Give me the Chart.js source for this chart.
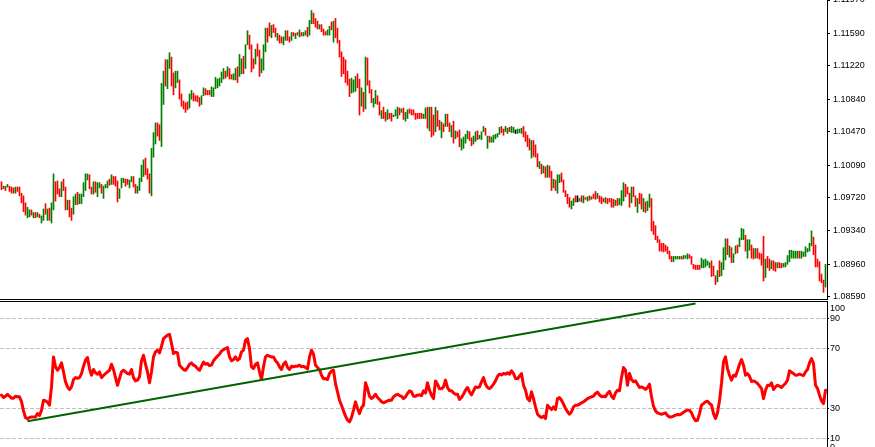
<!DOCTYPE html>
<html><head><meta charset="utf-8">
<script src="https://cdn.jsdelivr.net/npm/chart.js@4.4.0/dist/chart.umd.min.js"></script>
<style>
html,body{margin:0;padding:0;background:#fff;overflow:hidden;width:875px;height:447px;}
#wrap{position:relative;width:875px;height:447px;overflow:hidden;background:#fff;}
canvas{position:absolute;left:0;}
#priceCanvas{top:0;width:875px;height:300px;}
#rsiCanvas{top:300px;width:875px;height:155px;}
</style></head><body>
<div id="wrap"><canvas id="priceCanvas" width="875" height="300"></canvas><canvas id="rsiCanvas" width="875" height="155"></canvas></div>
<script>
// ---- data ----
const barHigh = [
1.0990,1.0985,1.0985,1.0987,1.0985,1.0984,1.0983,1.0984,1.0984,1.0984,
1.0977,1.0974,1.0966,1.0961,1.0958,1.0958,1.0955,1.0955,1.0955,1.0953,
1.0951,1.0959,1.0965,1.0959,1.0960,1.0966,1.0999,1.0990,1.0991,1.0982,
1.0990,1.0993,1.0984,1.0969,1.0969,1.0960,1.0973,1.0976,1.0978,1.0976,
1.0976,1.0989,1.0999,1.0999,1.0998,1.0984,1.0990,1.0990,1.0989,1.0989,
1.0987,1.0985,1.0987,1.0991,1.0993,1.0998,1.0996,1.0996,1.0991,1.0982,
1.0994,1.0994,1.0993,1.0993,1.0992,1.0996,1.0996,1.0987,1.0985,1.0994,
1.1009,1.1015,1.1017,1.1005,1.0999,1.1028,1.1046,1.1057,1.1057,1.1055,
1.1102,1.1116,1.1129,1.1129,1.1137,1.1132,1.1114,1.1116,1.1116,1.1106,
1.1090,1.1082,1.1080,1.1081,1.1090,1.1094,1.1091,1.1088,1.1088,1.1086,
1.1088,1.1097,1.1096,1.1094,1.1094,1.1098,1.1097,1.1109,1.1107,1.1108,
1.1115,1.1119,1.1116,1.1121,1.1119,1.1112,1.1113,1.1119,1.1121,1.1135,
1.1130,1.1133,1.1146,1.1162,1.1157,1.1146,1.1130,1.1141,1.1147,1.1140,
1.1130,1.1146,1.1165,1.1165,1.1171,1.1168,1.1169,1.1165,1.1159,1.1157,
1.1155,1.1155,1.1162,1.1162,1.1155,1.1160,1.1160,1.1159,1.1160,1.1163,
1.1160,1.1160,1.1162,1.1166,1.1174,1.1185,1.1182,1.1176,1.1173,1.1169,
1.1169,1.1164,1.1161,1.1163,1.1167,1.1172,1.1173,1.1176,1.1165,1.1151,
1.1138,1.1132,1.1129,1.1116,1.1107,1.1108,1.1106,1.1110,1.1113,1.1107,
1.1097,1.1092,1.1132,1.1131,1.1105,1.1095,1.1085,1.1094,1.1088,1.1081,
1.1071,1.1075,1.1069,1.1072,1.1068,1.1068,1.1066,1.1072,1.1075,1.1074,
1.1073,1.1074,1.1069,1.1072,1.1073,1.1072,1.1072,1.1068,1.1068,1.1068,
1.1068,1.1067,1.1074,1.1075,1.1075,1.1075,1.1066,1.1075,1.1071,1.1060,
1.1058,1.1056,1.1067,1.1067,1.1057,1.1054,1.1059,1.1048,1.1047,1.1049,
1.1039,1.1041,1.1044,1.1048,1.1047,1.1040,1.1042,1.1047,1.1048,1.1043,
1.1047,1.1053,1.1051,1.1042,1.1042,1.1041,1.1043,1.1044,1.1045,1.1052,
1.1053,1.1050,1.1053,1.1051,1.1052,1.1053,1.1052,1.1049,1.1050,1.1050,
1.1051,1.1053,1.1047,1.1043,1.1039,1.1037,1.1037,1.1032,1.1022,1.1013,
1.1010,1.1008,1.1007,1.1009,1.1008,1.1002,1.0993,1.0992,1.0998,1.0998,
1.1000,1.0992,1.0980,1.0976,1.0972,1.0968,1.0971,1.0974,1.0974,1.0971,
1.0974,1.0974,1.0972,1.0973,1.0974,1.0973,1.0976,1.0979,1.0977,1.0974,
1.0973,1.0971,1.0972,1.0971,1.0971,1.0971,1.0970,1.0969,1.0971,1.0971,
1.0980,1.0989,1.0987,1.0984,1.0977,1.0984,1.0984,1.0974,1.0971,1.0977,
1.0976,1.0971,1.0967,1.0968,1.0976,1.0971,1.0945,1.0940,1.0928,1.0924,
1.0920,1.0920,1.0918,1.0916,1.0911,1.0905,1.0905,1.0905,1.0905,1.0905,
1.0905,1.0906,1.0906,1.0908,1.0907,1.0905,1.0896,1.0895,1.0895,1.0895,
1.0903,1.0901,1.0902,1.0900,1.0898,1.0900,1.0894,1.0883,1.0889,1.0900,
1.0898,1.0915,1.0925,1.0925,1.0917,1.0915,1.0908,1.0917,1.0918,1.0926,
1.0937,1.0936,1.0929,1.0924,1.0924,1.0918,1.0914,1.0914,1.0914,1.0909,
1.0908,1.0928,1.0902,1.0905,1.0902,1.0900,1.0900,1.0898,1.0898,1.0898,
1.0897,1.0897,1.0898,1.0906,1.0912,1.0912,1.0911,1.0911,1.0911,1.0911,
1.0911,1.0910,1.0916,1.0914,1.0920,1.0934,1.0927,1.0918,1.0902,1.0899,
1.0885,1.0878,1.0896];
const barLow = [
1.0981,1.0982,1.0980,1.0984,1.0979,1.0977,1.0977,1.0977,1.0979,1.0974,
1.0966,1.0956,1.0952,1.0949,1.0950,1.0952,1.0949,1.0949,1.0950,1.0949,
1.0943,1.0946,1.0953,1.0946,1.0946,1.0943,1.0958,1.0968,1.0976,1.0973,
1.0973,1.0980,1.0958,1.0958,1.0950,1.0946,1.0953,1.0964,1.0964,1.0965,
1.0965,1.0973,1.0980,1.0992,1.0982,1.0976,1.0976,1.0978,1.0973,1.0983,
1.0977,1.0971,1.0983,1.0983,1.0986,1.0987,1.0987,1.0985,1.0967,1.0971,
1.0983,1.0989,1.0985,1.0987,1.0983,1.0990,1.0984,1.0977,1.0977,1.0980,
1.0990,1.0996,1.0998,1.0993,1.0977,1.0974,1.1018,1.1033,1.1042,1.1037,
1.1030,1.1078,1.1099,1.1096,1.1119,1.1099,1.1089,1.1097,1.1103,1.1084,
1.1076,1.1073,1.1069,1.1072,1.1074,1.1084,1.1082,1.1082,1.1081,1.1076,
1.1078,1.1088,1.1089,1.1089,1.1089,1.1087,1.1087,1.1096,1.1097,1.1099,
1.1103,1.1107,1.1108,1.1110,1.1107,1.1107,1.1106,1.1106,1.1103,1.1110,
1.1113,1.1113,1.1119,1.1146,1.1141,1.1115,1.1119,1.1124,1.1133,1.1110,
1.1114,1.1117,1.1138,1.1149,1.1156,1.1154,1.1160,1.1155,1.1151,1.1148,
1.1148,1.1146,1.1151,1.1151,1.1149,1.1151,1.1156,1.1153,1.1157,1.1155,
1.1156,1.1156,1.1157,1.1155,1.1157,1.1170,1.1170,1.1166,1.1164,1.1164,
1.1161,1.1157,1.1157,1.1157,1.1157,1.1163,1.1149,1.1154,1.1148,1.1132,
1.1110,1.1113,1.1103,1.1100,1.1087,1.1091,1.1092,1.1093,1.1097,1.1066,
1.1076,1.1070,1.1073,1.1100,1.1091,1.1080,1.1075,1.1079,1.1078,1.1066,
1.1062,1.1062,1.1059,1.1061,1.1062,1.1059,1.1064,1.1065,1.1062,1.1066,
1.1069,1.1061,1.1059,1.1062,1.1068,1.1066,1.1066,1.1061,1.1062,1.1062,
1.1062,1.1062,1.1062,1.1051,1.1048,1.1041,1.1043,1.1047,1.1053,1.1049,
1.1040,1.1047,1.1053,1.1053,1.1047,1.1041,1.1034,1.1039,1.1041,1.1030,
1.1026,1.1028,1.1034,1.1039,1.1037,1.1031,1.1033,1.1036,1.1038,1.1039,
1.1038,1.1047,1.1043,1.1028,1.1035,1.1035,1.1035,1.1039,1.1041,1.1044,
1.1046,1.1043,1.1047,1.1045,1.1047,1.1046,1.1046,1.1045,1.1045,1.1046,
1.1045,1.1041,1.1036,1.1030,1.1026,1.1017,1.1019,1.1018,1.1007,1.1005,
1.0999,1.1000,1.0995,1.0995,1.0995,1.0980,1.0983,1.0980,1.0977,1.0989,
1.0990,1.0978,1.0973,1.0965,1.0961,1.0959,1.0963,1.0967,1.0967,1.0968,
1.0967,1.0966,1.0970,1.0968,1.0969,1.0970,1.0971,1.0970,1.0971,1.0967,
1.0965,1.0967,1.0966,1.0965,1.0967,1.0961,1.0961,1.0963,1.0963,1.0964,
1.0963,1.0968,1.0973,1.0976,1.0961,1.0966,1.0973,1.0962,1.0955,1.0965,
1.0959,1.0956,1.0955,1.0957,1.0961,1.0934,1.0930,1.0924,1.0921,1.0911,
1.0911,1.0910,1.0911,1.0908,1.0902,1.0899,1.0899,1.0902,1.0902,1.0902,
1.0902,1.0902,1.0903,1.0902,1.0903,1.0896,1.0891,1.0890,1.0890,1.0890,
1.0892,1.0892,1.0893,1.0895,1.0892,1.0882,1.0883,1.0873,1.0876,1.0882,
1.0883,1.0890,1.0901,1.0907,1.0904,1.0898,1.0898,1.0908,1.0909,1.0916,
1.0924,1.0924,1.0911,1.0903,1.0912,1.0903,1.0902,1.0903,1.0903,1.0902,
1.0895,1.0877,1.0881,1.0892,1.0889,1.0891,1.0889,1.0888,1.0892,1.0892,
1.0892,1.0893,1.0893,1.0896,1.0899,1.0903,1.0903,1.0903,1.0903,1.0903,
1.0903,1.0905,1.0905,1.0910,1.0911,1.0917,1.0907,1.0893,1.0893,1.0877,
1.0875,1.0864,1.0870];
// u = up bar, d = down bar, f = unchanged
const barMove = (
"dududddudd ddduududud uududuuddd uddudduudu uuuudduduu duuududddu uudduudduu uuddduuudd uuduudduud dddduudddd " +
"uuddduuuuu uududduudu uduudddudd uuudduddud duuddududu duuduudddu ddduududdd ddddduuudd ududdduudd uddudduuud " +
"uduudddddd duududdudd ududdududd uuuudduudu uududuuuuu dduuduufuu uddddudddu dududduduu ddddduudfu dudududdud " +
"dduddddudu uuddduddud duduuddddd dddddduuuu duuudddddd uuuuudddud uuududuudu uuduuddudd ddudduddud duuuuuuuud " +
"uuuuuudddd ddu").replace(/\s/g, "").split("");
const rsiValues = [
38.9,37.3,38.2,39.5,38.2,36.9,36.9,38.2,37.8,37.8,
34.6,28.4,24.0,23.1,24.0,24.4,24.4,24.4,26.6,25.3,
28.9,35.5,35.1,34.2,32.2,44.4,64.4,57.8,55.5,57.3,
60.4,54.4,47.8,44.4,42.6,44.4,49.3,50.6,50.2,50.6,
53.3,58.2,62.2,64.0,56.6,52.2,56.0,53.8,52.9,54.4,
50.6,52.0,53.3,54.4,55.5,59.5,56.0,50.6,45.5,50.0,
54.4,55.5,54.4,53.3,52.9,56.0,50.6,48.4,48.9,51.1,
61.8,65.5,59.5,54.4,47.1,54.4,64.4,67.8,68.9,67.1,
71.5,76.6,77.8,78.9,79.5,73.3,66.6,67.5,67.1,58.9,
57.3,56.0,55.5,57.3,59.5,60.4,58.9,58.2,56.6,55.5,
58.2,60.9,59.5,60.0,58.6,58.9,61.8,63.5,64.9,66.2,
68.2,69.3,70.0,70.6,64.4,61.8,62.6,64.4,62.2,63.3,
67.8,68.9,75.5,76.6,70.0,57.8,56.6,59.5,60.4,54.4,
49.3,57.8,64.4,65.5,64.9,64.4,64.4,61.8,60.4,57.8,
56.0,59.5,61.1,57.3,56.0,58.2,57.8,58.2,58.2,58.9,
57.8,58.2,57.3,56.4,64.4,68.9,66.2,58.9,57.3,56.0,
52.2,49.8,50.0,49.3,53.3,55.1,55.5,46.6,41.1,35.5,
32.2,28.4,24.9,22.2,21.1,24.0,28.9,34.4,30.0,26.6,
30.6,32.2,47.1,43.3,38.2,36.6,37.8,39.5,37.3,36.0,
34.6,33.8,34.4,35.1,35.5,35.5,37.8,38.9,39.5,38.6,
38.2,36.6,37.8,40.0,41.8,41.1,38.2,38.2,38.9,39.1,
38.6,41.8,40.4,47.1,42.2,38.9,36.6,48.4,46.2,43.1,
43.1,44.4,48.9,44.0,41.8,41.8,40.4,39.5,39.5,36.0,
37.3,39.5,42.2,44.0,41.1,39.1,41.8,44.4,44.0,44.4,
47.8,50.6,46.2,44.0,43.3,44.4,46.2,48.4,51.5,52.9,
52.4,53.3,52.9,53.8,52.9,55.1,53.3,50.0,49.8,51.5,
53.3,45.5,42.2,36.6,35.1,41.1,36.6,31.1,26.2,24.9,
24.0,24.9,23.3,32.2,30.6,29.3,31.1,29.3,36.6,37.3,
35.5,32.9,30.0,27.8,26.2,27.8,31.1,32.2,32.2,32.9,
33.8,34.4,35.5,36.6,37.3,37.8,38.2,40.0,40.9,39.1,
37.8,38.2,37.8,40.0,41.5,38.2,36.6,40.4,42.2,41.8,
50.6,57.3,55.5,45.5,53.3,49.3,47.8,48.4,46.2,44.0,
44.4,43.8,42.7,44.0,46.2,37.8,31.5,28.4,27.1,26.6,
26.2,26.6,27.1,25.3,24.4,24.4,24.9,25.6,26.0,25.8,
26.4,27.5,28.4,28.9,28.9,27.1,24.0,21.8,22.2,26.6,
32.2,33.3,34.4,34.9,33.3,32.4,26.6,23.3,27.1,35.1,
46.7,61.1,64.4,56.6,52.2,48.9,52.2,51.5,55.1,59.5,
62.6,58.9,52.2,53.3,51.5,48.0,48.4,47.8,46.7,45.1,
43.3,36.6,42.2,45.5,45.3,47.1,42.7,44.4,45.5,44.9,
44.0,45.5,46.7,48.9,55.1,54.2,53.3,52.2,52.4,52.9,
52.4,52.0,54.4,56.0,60.4,63.3,60.0,45.5,43.3,38.9,
35.1,33.3,42.2];
const priceTicks = [1.1197, 1.1159, 1.1122, 1.1084, 1.1047, 1.1009, 1.0972, 1.0934, 1.0896, 1.0859];
const rsiTicks = [100, 90, 70, 30, 10, 0];
const rsiLevels = [90, 70, 30, 10];
const trendX = [13, 347];      // bar index of trend line ends
const trendY = [21.5, 100];    // RSI value of trend line ends

// ---- style ----
const FONT = "'Liberation Sans', Arial, sans-serif";
const moveColor = {u: '#008000', d: '#ff0000', f: '#000000'};
const X_MIN = -0.75, X_MAX = barHigh.length - 0.25;
const AXIS_W = 48;

function fitAxis(s) {
  s.width = AXIS_W;
  s.paddingTop = 0; s.paddingBottom = 0;
}

function panelLine(where) {
  return {
    id: 'panelLine',
    afterDraw(chart) {
      const a = chart.chartArea, c = chart.ctx;
      const y = where === 'bottom' ? a.bottom + 0.5 : a.top - 0.5;
      c.save(); c.strokeStyle = '#000'; c.lineWidth = 1;
      c.beginPath(); c.moveTo(0, y); c.lineTo(a.right + 1, y); c.stroke(); c.restore();
    }
  };
}

new Chart(document.getElementById('priceCanvas'), {
  type: 'bar',
  data: { datasets: [{
    data: barHigh.map((h, i) => ({ x: i, y: [barLow[i], h] })),
    backgroundColor: barMove.map(m => moveColor[m]),
    borderWidth: 0, barThickness: 1
  }]},
  options: {
    responsive: false, animation: false, devicePixelRatio: 1,
    layout: { padding: { left: 0, right: 0, top: 0, bottom: 1 } },
    plugins: { legend: { display: false }, tooltip: { enabled: false } },
    scales: {
      x: { type: 'linear', min: X_MIN, max: X_MAX, offset: false, display: false },
      y: {
        position: 'right', min: 1.08565, max: 1.1197, beginAtZero: false,
        afterBuildTicks: s => { s.ticks = priceTicks.map(v => ({ value: v })); },
        afterFit: fitAxis,
        ticks: { autoSkip: false, padding: 3, color: '#000', font: { family: FONT, size: 9 },
                 callback: v => Number(v).toFixed(5) },
        grid: { drawOnChartArea: false, drawTicks: true, tickLength: 3, tickColor: '#000', offset: false },
        border: { display: true, color: '#000', width: 1 }
      }
    }
  },
  plugins: [panelLine('bottom')]
});

const edgeLabels = {
  id: 'edgeLabels',
  afterDraw(chart) {
    const s = chart.scales.y, a = chart.chartArea, c = chart.ctx;
    c.save(); c.font = '9px ' + FONT; c.fillStyle = '#000';
    c.textAlign = 'left'; c.textBaseline = 'middle';
    rsiTicks.forEach(v => {
      if (rsiLevels.includes(v)) return;
      const y = Math.min(Math.max(s.getPixelForValue(v), a.top + 7), a.bottom - 7);
      c.fillText(String(v), s.left + 3, y);
    });
    c.restore();
  }
};

new Chart(document.getElementById('rsiCanvas'), {
  type: 'line',
  data: { datasets: [
    { data: trendX.map((x, i) => ({ x: x, y: trendY[i] })), borderColor: '#006400', borderWidth: 2,
      pointRadius: 0, tension: 0, order: 0 },
    { data: rsiValues.map((v, i) => ({ x: i, y: v })), borderColor: '#ff0000', borderWidth: 3,
      pointRadius: 0, tension: 0, borderJoinStyle: 'round', borderCapStyle: 'round', order: 1 }
  ]},
  options: {
    responsive: false, animation: false, devicePixelRatio: 1,
    layout: { padding: { left: 0, right: 0, top: 2, bottom: 0.75 } },
    plugins: { legend: { display: false }, tooltip: { enabled: false } },
    scales: {
      x: { type: 'linear', min: X_MIN, max: X_MAX, offset: false, display: false },
      y: {
        position: 'right', min: -0.5, max: 101,
        afterBuildTicks: s => { s.ticks = rsiTicks.map(v => ({ value: v })); },
        afterFit: fitAxis,
        ticks: { autoSkip: false, padding: 1, color: '#000', font: { family: FONT, size: 9 },
                 callback: v => rsiLevels.includes(v) ? String(v) : '' },
        grid: { drawOnChartArea: true, drawTicks: true, tickLength: 2,
                color: ctx => rsiLevels.includes(ctx.tick.value) ? '#c0c0c0' : 'rgba(0,0,0,0)',
                tickColor: ctx => rsiLevels.includes(ctx.tick.value) ? '#000' : 'rgba(0,0,0,0)' },
        border: { display: true, color: '#000', width: 1, dash: [4, 2] }
      }
    }
  },
  plugins: [panelLine('top'), edgeLabels]
});
</script>
</body></html>
